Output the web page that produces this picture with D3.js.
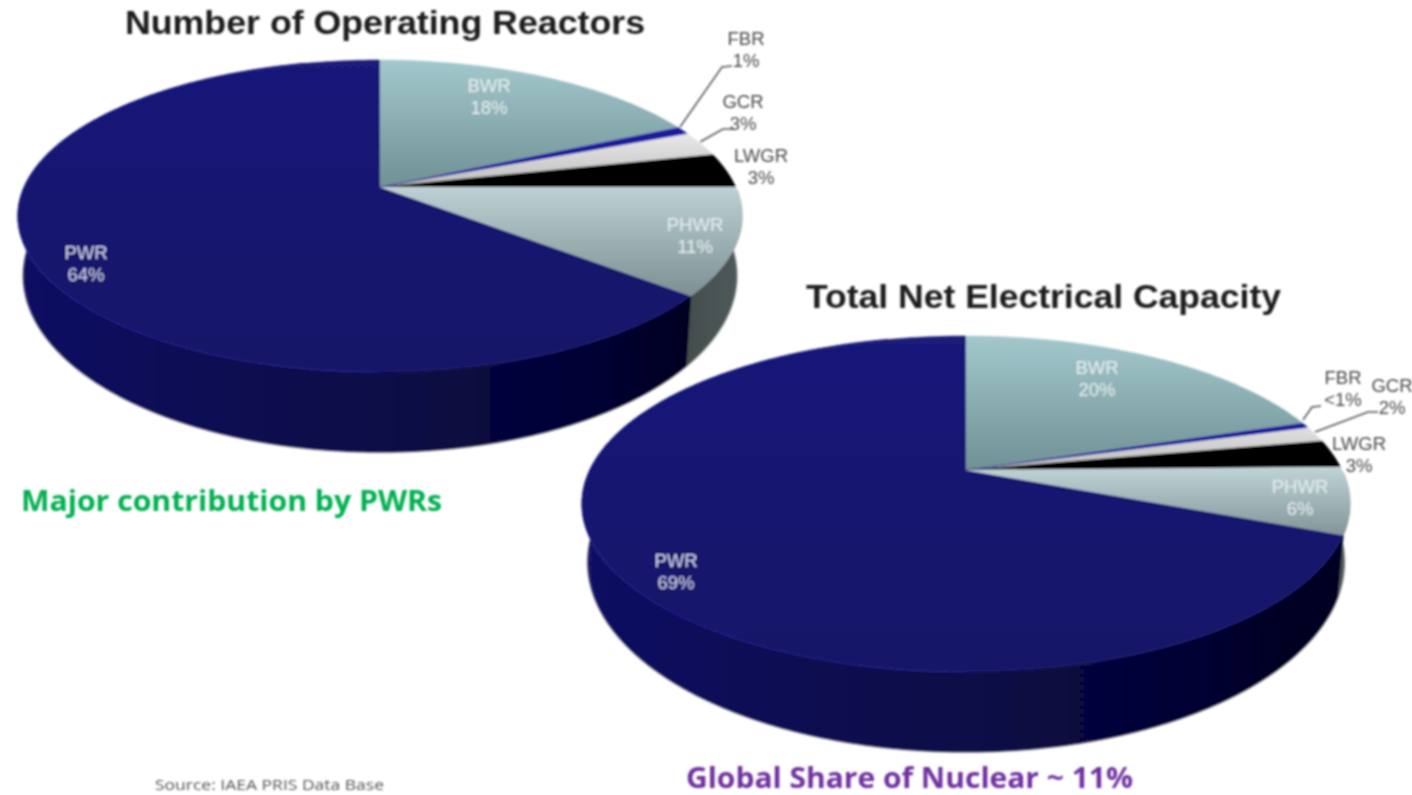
<!DOCTYPE html>
<html><head><meta charset="utf-8">
<script src="https://cdn.jsdelivr.net/npm/d3@7"></script>
<style>html,body{margin:0;padding:0;background:#fff;overflow:hidden}</style>
</head><body><svg id="c" width="1412" height="795"></svg>
<script>
// ---- data ----
const categories = ["BWR","FBR","GCR","LWGR","PHWR","PWR"];
const reactorsValues = [18,0.8,2.6,3.6,11,64];
const reactorsLabels = ["18%","1%","3%","3%","11%","64%"];
const capacityValues = [20,0.5,1.5,2.7,6.4,68.9];
const capacityLabels = ["20%","<1%","2%","3%","6%","69%"];
const titleReactors = "Number of Operating Reactors";
const titleCapacity = "Total Net Electrical Capacity";
const noteGreen = "Major contribution by PWRs";
const notePurple = "Global Share of Nuclear ~ 11%";
const noteSource = "Source: IAEA PRIS Data Base";

// ---- layout ----
const pie1 = {id:"a",cx:380,cy:187,B:355.7,A:150.6,c:-0.186,yf:372,depth:80,k:0.985,m:0.13,top:60,
  values:reactorsValues,labels:reactorsLabels,
  pos:[[489,92],[746,45],[743,108],[761,162],[695,231],[86,259]],
  leaders:[[[680,127],[722,67],[732,66]],[[700,142],[723,129],[733,129]]]};
const pie2 = {id:"b",cx:966,cy:470,B:376,A:161.1,c:-0.202,yf:672,depth:80,k:0.985,m:0.13,top:336,
  values:capacityValues,labels:capacityLabels,
  pos:[[1097,374],[1343,384],[1392,392],[1359,450],[1300,493],[676,567]],
  leaders:[[[1303,420],[1312,407],[1321,406]],[[1315,432],[1368,412],[1378,412]]]};

const svg = d3.select("#c");
const defs = svg.append("defs");
const blur = defs.append("filter").attr("id","soft").attr("filterUnits","userSpaceOnUse")
  .attr("x",0).attr("y",0).attr("width",1412).attr("height",795);
blur.append("feGaussianBlur").attr("stdDeviation",1.05);
const root = svg.append("g").attr("filter","url(#soft)");

function grad(id,x1,y1,x2,y2,stops){
  const g = defs.append("linearGradient").attr("id",id).attr("gradientUnits","userSpaceOnUse")
    .attr("x1",x1).attr("y1",y1).attr("x2",x2).attr("y2",y2);
  stops.forEach(([o,c])=>g.append("stop").attr("offset",o).attr("stop-color",c));
  return `url(#${id})`;
}

function drawPie(p){
  const arcs = d3.pie().sort(null).value(d=>d)(p.values);
  const top = t => { const u=Math.sin(t), v=-Math.cos(t), d=1+p.c*v;
    return [p.cx+p.B*u/d, p.cy+p.A*v/d]; };
  const bot = t => { const [x,y]=top(t);
    return [p.cx+p.k*(x-p.cx), y+p.depth+p.m*(y-p.yf)]; };
  const samples = (a,b) => { const n=Math.max(2,Math.ceil((b-a)/0.01));
    return d3.range(n+1).map(i=>a+(b-a)*i/n); };
  const line = d3.line();
  const g = root.append("g");

  const rx = p.B*1.02;
  const wallFill = [null,null,null,null,
    grad(p.id+"w4",p.cx+rx*0.8,0,p.cx+rx,0,[[0,"#3f4949"],[1,"#505a5a"]]),
    grad(p.id+"w5",p.cx-rx,0,p.cx+rx*0.85,0,[[0,"#121264"],[0.3,"#0b0b52"],[0.6,"#080844"],[0.85,"#050534"],[1,"#030322"]])];
  const tFrom = Math.PI/2+0.02, tTo = Math.PI*1.5+0.25;
  // soft contact shadow along the lower rim
  g.append("path").attr("d",line(samples(tFrom,tTo).map(bot))).attr("fill","none")
    .attr("stroke","#888").attr("stroke-opacity",0.55).attr("stroke-width",2.5);
  arcs.forEach((a,i)=>{
    const s=Math.max(a.startAngle,tFrom), e=Math.min(a.endAngle,tTo);
    if(e<=s||!wallFill[i]) return;
    const ts=samples(s,e);
    const pts=ts.map(top).concat(ts.slice().reverse().map(bot));
    g.append("path").attr("d",line(pts)+"Z").attr("fill",wallFill[i]).attr("stroke",wallFill[i]).attr("stroke-width",0.6);
  });

  const fills = [
    grad(p.id+"t0",0,p.top,0,p.cy+5,[[0,"#a3c8cc"],[1,"#6e8f93"]]),
    "#1a1a9c",
    grad(p.id+"t2",0,p.cy-60,0,p.cy,[[0,"#eeeeee"],[1,"#bdbdbd"]]),
    "#000000",
    grad(p.id+"t4",0,p.cy,0,p.cy+(p.id==="a"?108:70),[[0,"#bdd1d4"],[1,"#7d9094"]]),
    grad(p.id+"t5",0,p.top,0,p.yf,[[0,"#1a1a7a"],[0.6,"#14146e"],[1,"#131368"]])
  ];
  [5,0,2,3,4,1].forEach(i=>{
    const a=arcs[i];
    const pts=[[p.cx,p.cy]].concat(samples(a.startAngle,a.endAngle).map(top));
    g.append("path").attr("d",line(pts)+"Z").attr("fill",fills[i]).attr("stroke",fills[i]).attr("stroke-width",0.4);
  });
  // lit front rim of the PWR slice
  const pw=arcs[5];
  g.append("path").attr("d",line(samples(Math.PI,pw.endAngle-0.25).map(top)))
    .attr("fill","none").attr("stroke","#26268c").attr("stroke-width",1.2);

  p.leaders.forEach(l=>g.append("path").attr("d",line(l)).attr("fill","none").attr("stroke","#555").attr("stroke-width",1.5));

  categories.forEach((c,i)=>{
    const [x,y]=p.pos[i];
    const fill = i===5 ? "#cfd2ea" : (i===0||i===4) ? "#e6eef0" : "#4a4a4a";
    const t=g.append("text").attr("text-anchor","middle")
      .attr("font-family","'Liberation Sans',Arial,sans-serif").attr("font-size",18.5)
      .attr("fill",fill);
    t.append("tspan").attr("x",x).attr("y",y).text(c);
    t.append("tspan").attr("x",x).attr("y",y+22).text(p.labels[i]);
  });
}
drawPie(pie1);
drawPie(pie2);

root.append("text").attr("x",125).attr("y",34).attr("font-family","'Liberation Sans',Arial,sans-serif")
  .attr("font-weight","bold").attr("font-size",34).attr("fill","#1c1c1c").attr("textLength",520).attr("lengthAdjust","spacingAndGlyphs").text(titleReactors);
root.append("text").attr("x",806).attr("y",308).attr("font-family","'Liberation Sans',Arial,sans-serif")
  .attr("font-weight","bold").attr("font-size",34).attr("fill","#1c1c1c").attr("textLength",475).attr("lengthAdjust","spacingAndGlyphs").text(titleCapacity);
root.append("text").attr("x",21).attr("y",511).attr("font-family","'Open Sans',sans-serif")
  .attr("font-weight","bold").attr("font-size",29).attr("fill","#00b050").attr("textLength",421).attr("lengthAdjust","spacingAndGlyphs").text(noteGreen);
root.append("text").attr("x",686).attr("y",788).attr("font-family","'Open Sans',sans-serif")
  .attr("font-weight","bold").attr("font-size",29).attr("fill","#7030a0").attr("textLength",447).attr("lengthAdjust","spacingAndGlyphs").text(notePurple);
root.append("text").attr("x",155).attr("y",790).attr("font-family","'Open Sans',sans-serif")
  .attr("font-size",14).attr("fill","#555").attr("textLength",229).attr("lengthAdjust","spacingAndGlyphs").text(noteSource);
</script></body></html>
